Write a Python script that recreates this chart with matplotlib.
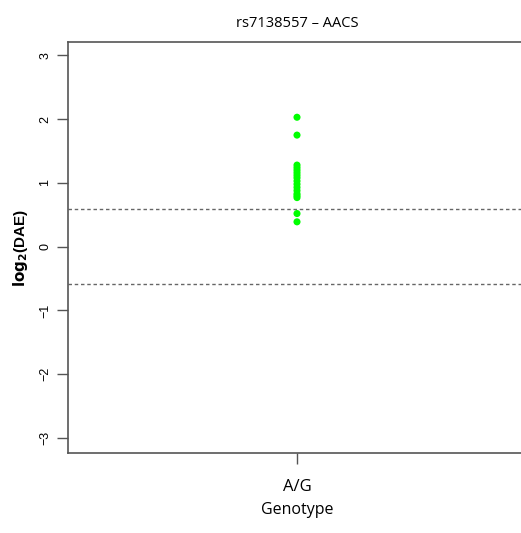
import matplotlib
matplotlib.use("Agg")
import matplotlib.pyplot as plt

# ── DATA ──
title = "rs7138557 \u2013 AACS"
genotypes = ["A/G"]
log2_dae = [2.03, 1.75, 1.28, 1.24, 1.20, 1.16, 1.12, 1.08, 1.03, 0.98,
            0.93, 0.88, 0.83, 0.80, 0.77, 0.52, 0.39]
threshold = 0.585
yticks = [-3, -2, -1, 0, 1, 2, 3]

# ── PLOT ──
fig = plt.figure(figsize=(5.21, 5.33), dpi=100)
ax = fig.add_axes([68 / 521, 80 / 533, 458 / 521, 411 / 533])

xs = [1] * len(log2_dae)
ax.scatter(xs, log2_dae, s=26, color="#00ff00", edgecolors="none", zorder=3)

for yv in (threshold, -threshold):
    ax.axhline(yv, color="#666666", linestyle=(0, (2.5, 2)), linewidth=1)

ax.set_xlim(0.5, 1.5)
ax.set_ylim(-3.235, 3.21)
ax.set_xticks([1])
ax.set_xticklabels(genotypes, fontsize=12, family="Open Sans")
ax.set_yticks(yticks)
ax.set_yticklabels([str(t).replace("-", "\u2212") for t in yticks],
                   rotation=90, va="center", fontsize=9, family="Liberation Sans")
ax.tick_params(axis="both", length=8, width=1, color="#555555", pad=4)
ax.tick_params(axis="x", pad=11)

for sp in ax.spines.values():
    sp.set_color("#555555")
    sp.set_linewidth(1.2)

ax.set_xlabel("Genotype", fontsize=11.5, family="Open Sans", labelpad=5)
ax.set_ylabel(r"$\mathbf{log_2}$(DAE)", fontsize=11, family="Liberation Sans",
              fontweight="bold", labelpad=7)
ax.set_title(title, fontsize=10.5, family="Open Sans", pad=11)

fig.savefig("out.png", dpi=100)
